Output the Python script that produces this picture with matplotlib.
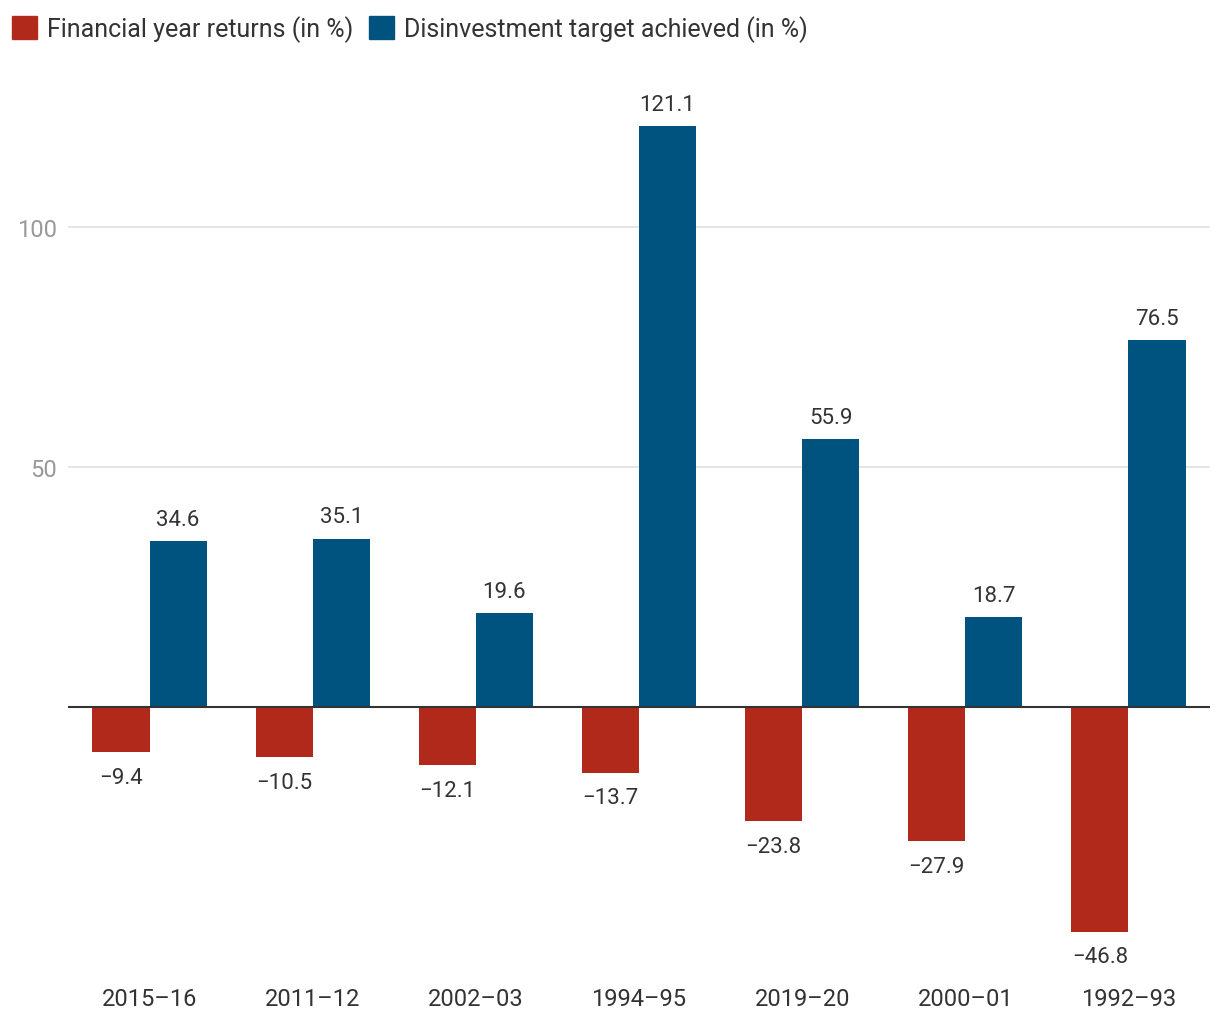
import matplotlib
matplotlib.use("Agg")
import matplotlib.pyplot as plt
import numpy as np
from matplotlib.patches import Patch

categories = ["2015-16", "2011-12", "2002-03", "1994-95", "2019-20", "2000-01", "1992-93"]
fy_returns = [-9.4, -10.5, -12.1, -13.7, -23.8, -27.9, -46.8]
disinvest = [34.6, 35.1, 19.6, 121.1, 55.9, 18.7, 76.5]
yticks = [50, 100]

RED = "#b0291a"
BLUE = "#00537e"
plt.rcParams['font.family'] = ['Roboto', 'DejaVu Sans']

fig = plt.figure(figsize=(12.2, 10.2), dpi=100)
ax = fig.add_axes([68/1220, 1 - 948/1020, (1210-68)/1220, 864/1020])

x = np.arange(len(categories))
w = 0.35
ax.bar(x - w/2, fy_returns, width=w, color=RED, zorder=2)
ax.bar(x + w/2, disinvest, width=w, color=BLUE, zorder=2)

ax.set_xlim(-0.5, len(categories) - 0.5)
ax.set_ylim(-50, 130)

for xi, v in zip(x, fy_returns):
    ax.annotate(f"\u2212{abs(v):.1f}", (xi - w/2, v), xytext=(0, -10.5), textcoords="offset points",
                ha="center", va="top", fontsize=16, color="#333333")
for xi, v in zip(x, disinvest):
    ax.annotate(f"{v:.1f}", (xi + w/2, v), xytext=(0, 8), textcoords="offset points",
                ha="center", va="bottom", fontsize=16, color="#333333")

ax.axhline(0, color="#333333", lw=1.5, zorder=3)
for t in yticks:
    ax.axhline(t, color="#e0e0e0", lw=1.2, zorder=1)

ax.set_yticks(yticks)
ax.set_yticklabels([str(t) for t in yticks], fontsize=17, color="#999999")
ax.tick_params(axis="y", length=0, pad=8)
ax.set_xticks(x)
ax.set_xticklabels([c.replace("-", "\u2013") for c in categories], fontsize=17, color="#333333")
ax.tick_params(axis="x", length=0, pad=29)
for s in ax.spines.values():
    s.set_visible(False)

handles = [Patch(color=RED, label="Financial year returns (in %)"),
           Patch(color=BLUE, label="Disinvestment target achieved (in %)")]
fig.legend(handles=handles, loc="upper left", bbox_to_anchor=(2/1220, 1 - 6/1020), ncol=2, frameon=False,
           fontsize=18, labelcolor="#333333", handlelength=1.0, handleheight=1.0,
           handletextpad=0.4, columnspacing=0.64, borderaxespad=0.0, borderpad=0.4)

fig.savefig("out.png", dpi=100, facecolor="white")
